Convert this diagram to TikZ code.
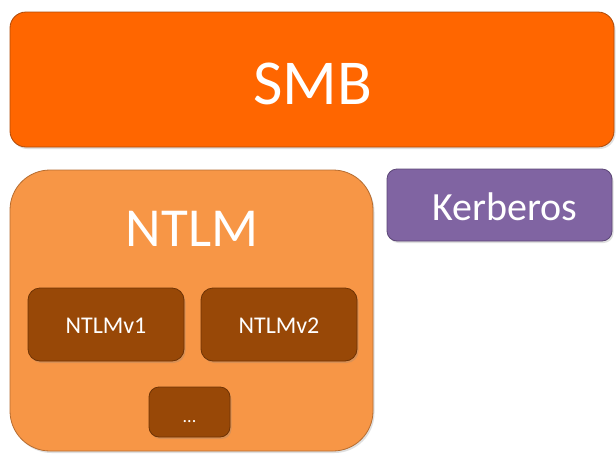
\documentclass[tikz,border=0pt]{standalone}
\usepackage{fontspec}
\setmainfont{Carlito}
\usetikzlibrary{shadows}
\definecolor{smbfill}{HTML}{FF6600}
\definecolor{smbline}{HTML}{B04A08}
\definecolor{ntlmfill}{HTML}{F79646}
\definecolor{ntlmline}{HTML}{B66D31}
\definecolor{subfill}{HTML}{984807}
\definecolor{subline}{HTML}{6E3305}
\definecolor{kerbfill}{HTML}{8064A2}
\definecolor{kerbline}{HTML}{5C4776}
\tikzset{
  box/.style={draw, line width=0.8pt, text=white, inner sep=0pt,
    drop shadow={shadow xshift=1.5pt, shadow yshift=-2pt, opacity=0.25}},
}
\begin{document}
\begin{tikzpicture}[x=1pt,y=-1pt]
\useasboundingbox[fill=white] (0,0) rectangle (616,453);
\draw[box, fill=smbfill, draw=smbline, rounded corners=16pt] (10,12) rectangle (614,147);
\node[text=white, font=\fontsize{64}{64}\selectfont] (smb) at (313,84) {SMB};
\draw[box, fill=ntlmfill, draw=ntlmline, rounded corners=40pt] (10,170) rectangle (373,451);
\node[text=white, font=\fontsize{55}{55}\selectfont] (ntlm) at (192,229) {NTLM};
\draw[box, fill=kerbfill, draw=kerbline, rounded corners=10pt] (387,169) rectangle (612,241);
\node[text=white, font=\fontsize{40}{40}\selectfont] (kerb) at (505,207) {Kerberos};
\draw[box, fill=subfill, draw=subline, rounded corners=12pt] (28,288) rectangle (184,361);
\node[text=white, font=\fontsize{24}{24}\selectfont] (v1) at (106,326) {NTLMv1};
\draw[box, fill=subfill, draw=subline, rounded corners=12pt] (201,288) rectangle (357,361);
\node[text=white, font=\fontsize{24}{24}\selectfont] (v2) at (279,326) {NTLMv2};
\draw[box, fill=subfill, draw=subline, rounded corners=10pt] (149,387) rectangle (230,437);
\node[text=white, font=\fontsize{18}{18}\selectfont, anchor=base] (dots) at (189.5,422) {...};
\end{tikzpicture}
\end{document}
